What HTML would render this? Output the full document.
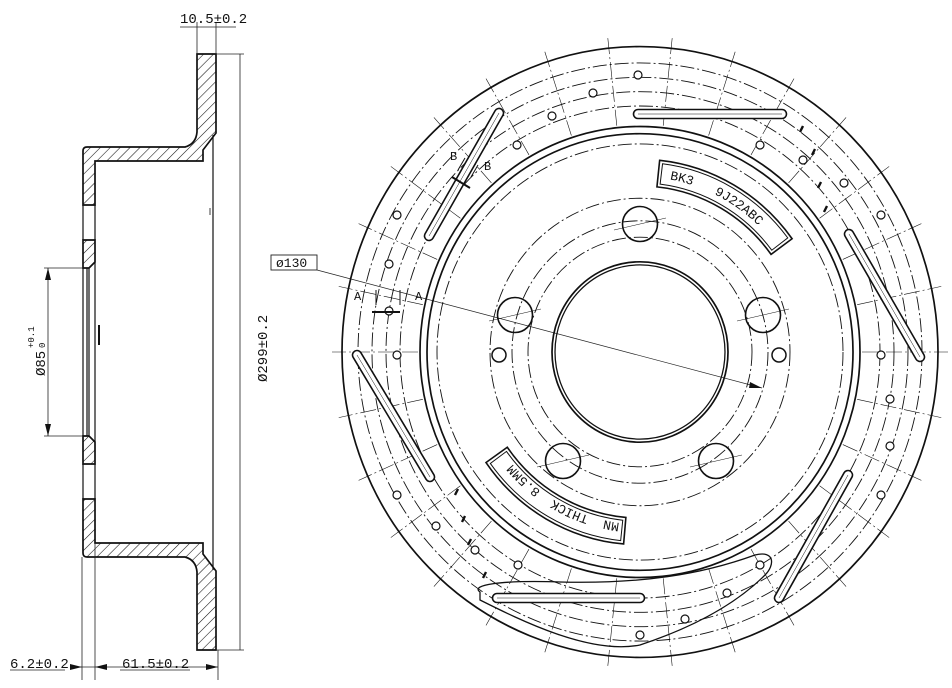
<!DOCTYPE html>
<html><head><meta charset="utf-8"><style>
html,body{margin:0;padding:0;background:#fff;}
svg{display:block;font-family:"Liberation Mono","DejaVu Sans Mono",monospace;}
</style></head><body>
<svg id="s" width="952" height="688" viewBox="0 0 952 688" xmlns="http://www.w3.org/2000/svg">
<defs>
<pattern id="h" patternUnits="userSpaceOnUse" width="7" height="7" patternTransform="rotate(45)">
<line x1="0" y1="0" x2="0" y2="7" stroke="#111" stroke-width="1.1"/>
</pattern>
</defs>
<rect width="952" height="688" fill="#fff"/>
<g stroke="#111" stroke-width="1.7" fill="url(#h)">
<path d="M197,54 L216,54 L216,133 L203,150 L203,161 L95,161 L95,205 L83,205 L83,151 Q83,147 87,147 L185,147 Q196,144 197,132 Z"/>
<path d="M197,650 L216,650 L216,571 L203,554 L203,543 L95,543 L95,499 L83,499 L83,553 Q83,557 87,557 L185,557 Q196,560 197,572 Z"/>
<path d="M83,240 L95,240 L95,262 L89,268 L83,268 Z"/>
<path d="M83,464 L95,464 L95,442 L89,436 L83,436 Z"/>
</g>
<g stroke="#111" stroke-width="1.2" fill="none">
<line x1="83" y1="205" x2="83" y2="240"/><line x1="95" y1="205" x2="95" y2="240"/>
<line x1="83" y1="464" x2="83" y2="499"/><line x1="95" y1="464" x2="95" y2="499"/>
<line x1="83" y1="268" x2="83" y2="436"/><line x1="87" y1="268" x2="87" y2="436"/><line x1="89" y1="268" x2="89" y2="436"/>
<line x1="95" y1="262" x2="95" y2="442"/>
<line x1="213" y1="135" x2="213" y2="570"/>
<line x1="99" y1="325" x2="99" y2="345" stroke-width="2"/>
<line x1="210" y1="208" x2="210" y2="215" stroke-width="0.8"/>
</g>
<g stroke="#222" stroke-width="0.8" fill="none">
<line x1="197" y1="22" x2="197" y2="54"/><line x1="216" y1="22" x2="216" y2="54"/>
<line x1="180" y1="27" x2="236" y2="27"/>
<line x1="216" y1="54" x2="244" y2="54"/><line x1="216" y1="650" x2="244" y2="650"/>
<line x1="240" y1="54" x2="240" y2="650"/>
<line x1="44" y1="268" x2="83" y2="268"/><line x1="44" y1="436" x2="83" y2="436"/>
<line x1="48" y1="268" x2="48" y2="436"/>
<line x1="82" y1="557" x2="82" y2="680"/><line x1="95" y1="543" x2="95" y2="680"/><line x1="218" y1="650" x2="218" y2="680"/>
<line x1="70" y1="667" x2="95" y2="667"/><line x1="95" y1="667" x2="218" y2="667"/>
<line x1="10" y1="670" x2="65" y2="670"/><line x1="120" y1="670" x2="190" y2="670"/>
</g>
<g fill="#111">
<polygon points="48,268 45,280 51,280"/><polygon points="48,436 45,424 51,424"/>
<polygon points="95,667 107,664 107,670"/><polygon points="218,667 206,664 206,670"/><polygon points="82,667 70,664 70,670"/>
</g>
<g font-size="14" fill="#111">
<text x="180" y="23">10.5±0.2</text>
<text x="10" y="668">6.2±0.2</text>
<text x="122" y="668">61.5±0.2</text>
<text transform="translate(267,382) rotate(-90)">Ø299±0.2</text>
<text transform="translate(45,376) rotate(-90)">Ø85</text>
<text font-size="9" transform="translate(34,348) rotate(-90)">+0.1</text>
<text font-size="9" transform="translate(45,348) rotate(-90)">0</text>
</g>
<rect x="271" y="255" width="46" height="15" fill="none" stroke="#222" stroke-width="0.9"/>
<text x="276" y="267" font-size="13" fill="#111">ø130</text>
<line x1="317" y1="270" x2="762" y2="388" stroke="#222" stroke-width="0.7"/>
<polygon points="762,388 750,382 749,388" fill="#111"/>
<g id="disc" fill="none" stroke="#111"></g>
<g font-size="13" fill="#111">
<path id="tp1" d="M669.7,179.4 A171,175 0 0 1 771,239.3" fill="none"/>
<text><textPath href="#tp1" xml:space="preserve">BK3   9J22ABC</textPath></text>
<path id="tp2" d="M619.5,522.9 A168,172 0 0 1 505.8,455.6" fill="none"/>
<text><textPath href="#tp2" xml:space="preserve">MN  THICK  8.5MM</textPath></text>
<text x="354" y="300" font-size="12">A</text><text x="415" y="300" font-size="12">A</text>
<text x="450" y="160" font-size="12">B</text><text x="484" y="170" font-size="12">B</text>
</g>
<g stroke="#111" stroke-width="2">
<line x1="372" y1="312" x2="400" y2="312"/>
<line x1="452" y1="177" x2="470" y2="188"/>
</g>
<g stroke="#111" stroke-width="1" fill="#111">
<line x1="376" y1="290" x2="376" y2="305"/><line x1="400" y1="290" x2="400" y2="305"/>
<line x1="465" y1="158" x2="458" y2="170"/><line x1="478" y1="165" x2="471" y2="177"/>
</g>
<script>
(function(){
var NS="http://www.w3.org/2000/svg",g=document.getElementById("disc");
var cx=640,cy=352,k=1.025;
function el(t,a){var e=document.createElementNS(NS,t);for(var n in a)e.setAttribute(n,a[n]);g.appendChild(e);return e;}
function ell(r,w,d){var a={cx:cx,cy:cy,rx:r,ry:r*k,"stroke-width":w};if(d)a["stroke-dasharray"]=d;el("ellipse",a);}
function P(r,deg){var t=deg*Math.PI/180;return [cx+r*Math.cos(t),cy+r*Math.sin(t)*k];}
ell(298,1.7);ell(282,0.9,"14 3 2 3");ell(268,0.9,"14 3 2 3");ell(254,0.9,"14 3 2 3");ell(240,0.9,"14 3 2 3");
ell(220,1.7);ell(213,1.7);ell(203,0.9,"14 3 2 3");ell(150,0.9,"14 3 2 3");ell(128,0.9,"14 3 2 3");ell(112,0.9,"14 3 2 3");
ell(88,1.7);ell(85,1.3);
for(var a=0;a<360;a+=12){var p1=P(222,a),p2=P(308,a);el("line",{x1:p1[0],y1:p1[1],x2:p2[0],y2:p2[1],"stroke-width":0.6,"stroke-dasharray":"16 3 2 3"});}
[[640,224],[515,315],[763,315],[563,461],[716,461]].forEach(function(p){el("circle",{cx:p[0],cy:p[1],r:17.5,"stroke-width":1.6});
el("line",{x1:p[0]-26,y1:p[1]+6,x2:p[0]+26,y2:p[1]-6,"stroke-width":0.5});});
[[499,355],[779,355]].forEach(function(p){el("circle",{cx:p[0],cy:p[1],r:7,"stroke-width":1.5});});
[[638,75],[593,93],[552,116],[517,145],[397,215],[389,264],[389,311],[397,355],[397,495],[436,526],[475,550],[518,565],[640,635],[685,619],[727,593],[760,565],[760,145],[803,160],[844,183],[881,215],[881,355],[890,399],[890,446],[881,495]].forEach(function(p){el("circle",{cx:p[0],cy:p[1],r:4,"stroke-width":1.2,fill:"#fff"});});
function slot(x1,y1,x2,y2){var dx=x2-x1,dy=y2-y1,L=Math.sqrt(dx*dx+dy*dy),w=4.5,nx=-dy/L*w,ny=dx/L*w;
el("path",{d:"M"+(x1+nx)+","+(y1+ny)+" L"+(x2+nx)+","+(y2+ny)+" A"+w+","+w+" 0 0 0 "+(x2-nx)+","+(y2-ny)+" L"+(x1-nx)+","+(y1-ny)+" A"+w+","+w+" 0 0 0 "+(x1+nx)+","+(y1+ny)+" Z","stroke-width":1.6,fill:"#fff"});
el("line",{x1:x1,y1:y1,x2:x2,y2:y2,"stroke-width":0.5});}
slot(638,114,782,114);slot(499,113,429,236);slot(849,234,920,357);slot(357,355,430,477);slot(848,475,779,598);slot(497,598,640,598);
el("path",{d:"M480,592 C470,585 500,580 560,582 C640,584 700,575 755,555 C775,550 775,565 765,575 C740,600 700,625 640,645 C590,655 520,620 480,600 Z","stroke-width":1.3});
function box(a1,a2,r1,r2){var p=P(r2,a1),q=P(r2,a2),s=P(r1,a2),t=P(r1,a1);
el("path",{d:"M"+p+" A"+r2+","+r2*k+" 0 0 1 "+q+" L"+s+" A"+r1+","+r1*k+" 0 0 0 "+t+" Z","stroke-width":1.6});
var p=P(r2-3,a1+1),q=P(r2-3,a2-1),s=P(r1+3,a2-1),t=P(r1+3,a1+1);
el("path",{d:"M"+p+" A"+(r2-3)+","+(r2-3)*k+" 0 0 1 "+q+" L"+s+" A"+(r1+3)+","+(r1+3)*k+" 0 0 0 "+t+" Z","stroke-width":1});}
box(-84,-36,162,188);box(95,145,162,188);
[[800,132],[812,155],[818,188],[824,212],[455,495],[462,522],[468,545],[483,578]].forEach(function(p){el("line",{x1:p[0],y1:p[1],x2:p[0]+3,y2:p[1]-6,"stroke-width":2.4});});
})();
</script>
</svg>
</body></html>
